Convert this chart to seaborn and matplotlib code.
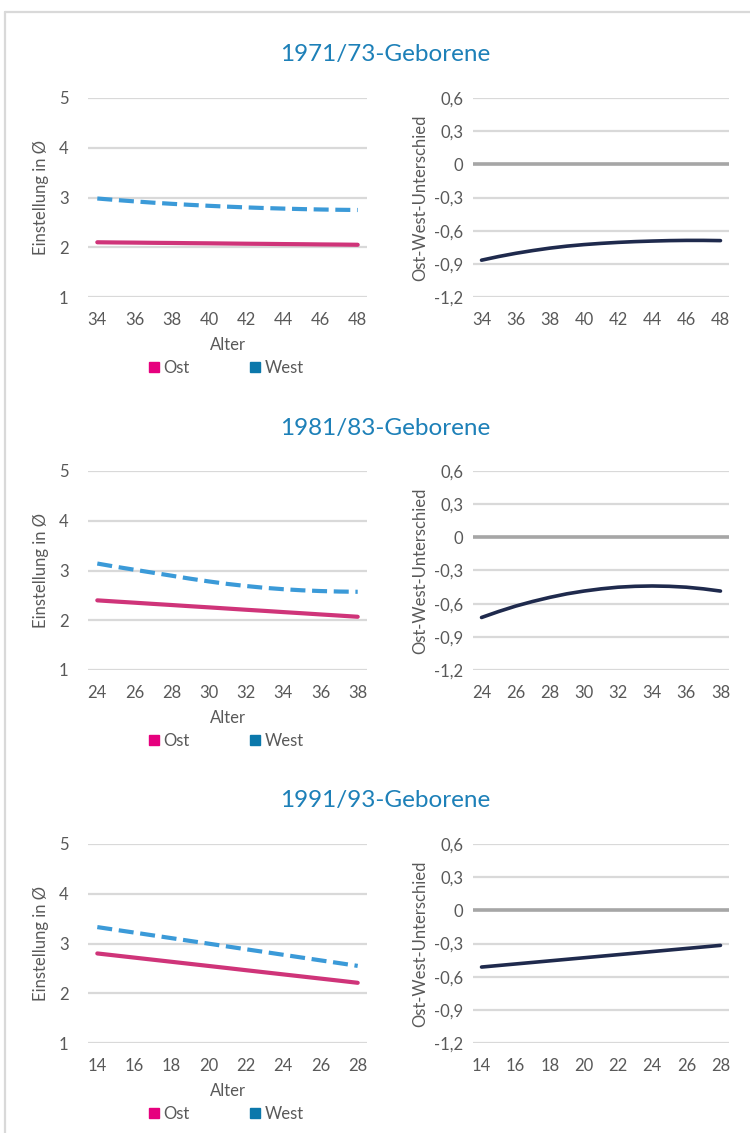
import seaborn as sns
import matplotlib.pyplot as plt
from matplotlib.lines import Line2D

# === Data ===
titles = ["1971/73-Geborene", "1981/83-Geborene", "1991/93-Geborene"]

alter_1971 = [34, 35, 36, 37, 38, 39, 40, 41, 42, 43, 44, 45, 46, 47, 48]
alter_1981 = [24, 25, 26, 27, 28, 29, 30, 31, 32, 33, 34, 35, 36, 37, 38]
alter_1991 = [14, 15, 16, 17, 18, 19, 20, 21, 22, 23, 24, 25, 26, 27, 28]

ost_1971 = [2.100, 2.096, 2.093, 2.089, 2.086, 2.082, 2.079, 2.075, 2.071, 2.068,
            2.064, 2.061, 2.057, 2.054, 2.050]
west_1971 = [2.98, 2.95, 2.922, 2.896, 2.873, 2.852, 2.833, 2.816, 2.801, 2.788,
             2.777, 2.767, 2.759, 2.753, 2.749]
diff_1971 = [-0.867, -0.834, -0.805, -0.780, -0.758, -0.740, -0.726, -0.715, -0.706, -0.699,
             -0.694, -0.690, -0.688, -0.688, -0.690]

ost_1981 = [2.400, 2.376, 2.353, 2.329, 2.306, 2.282, 2.259, 2.235, 2.211, 2.188,
            2.164, 2.141, 2.117, 2.094, 2.070]
west_1981 = [3.14, 3.075, 3.015, 2.955, 2.895, 2.835, 2.78, 2.73, 2.688, 2.652,
             2.624, 2.602, 2.587, 2.577, 2.572]
diff_1981 = [-0.725, -0.671, -0.622, -0.580, -0.543, -0.511, -0.486, -0.466, -0.451, -0.443,
             -0.440, -0.443, -0.451, -0.466, -0.486]

ost_1991 = [2.800, 2.758, 2.716, 2.674, 2.632, 2.590, 2.548, 2.506, 2.463, 2.421,
            2.379, 2.337, 2.295, 2.253, 2.210]
west_1991 = [3.33, 3.274, 3.219, 3.163, 3.107, 3.051, 2.996, 2.940, 2.884, 2.829,
             2.773, 2.717, 2.661, 2.606, 2.550]
diff_1991 = [-0.513, -0.499, -0.485, -0.471, -0.457, -0.443, -0.429, -0.415, -0.401, -0.387,
             -0.373, -0.359, -0.345, -0.331, -0.317]

left_ticks = [1, 2, 3, 4, 5]
right_ticks = [0.6, 0.3, 0, -0.3, -0.6, -0.9, -1.2]
right_labels = ["0,6", "0,3", "0", "-0,3", "-0,6", "-0,9", "-1,2"]

rows = [
    (titles[0], alter_1971, ost_1971, west_1971, diff_1971),
    (titles[1], alter_1981, ost_1981, west_1981, diff_1981),
    (titles[2], alter_1991, ost_1991, west_1991, diff_1991),
]

# === Style ===
sns.set_theme(style="white")
plt.rcParams["font.family"] = ["Lato", "DejaVu Sans"]
txt = "#595959"
grid_c = "#d9d9d9"
ost_line, west_line, diff_line = "#cf3479", "#3b9ad8", "#1f2a4d"
ost_leg, west_leg = "#e6007e", "#0b78ab"
title_c = "#1d80b8"

W, H = 750, 1133
fig = plt.figure(figsize=(W / 100, H / 100), dpi=100)

# outer frame (top + left edge)
fig.add_artist(Line2D([5 / W, 1], [1 - 12 / H, 1 - 12 / H], color=grid_c, lw=1.6))
fig.add_artist(Line2D([5 / W, 5 / W], [0, 1 - 12 / H], color=grid_c, lw=1.6))


def style_axes(ax, ages):
    sns.despine(ax=ax, left=True, bottom=True)
    ax.set_xlim(ages[0] - 0.5, ages[-1] + 0.5)
    ax.set_xticks(ages[::2])
    ax.set_xticklabels([str(a) for a in ages[::2]])
    ax.tick_params(length=0, labelsize=12, colors=txt)
    ax.tick_params(axis="x", pad=11)
    ax.yaxis.grid(True, color=grid_c, lw=1.6)
    ax.xaxis.grid(False)
    ax.set_axisbelow(True)


row_tops = [98, 471, 844]
row_h = 199

for (title, ages, ost, west, diff), top in zip(rows, row_tops):
    bottom = 1 - (top + row_h) / H
    height = row_h / H

    fig.text(385 / W, 1 - (top - 43) / H, title, ha="center", va="center",
             fontsize=17.5, color=title_c)

    # left panel: Einstellung
    ax = fig.add_axes([88 / W, bottom, 279 / W, height])
    sns.lineplot(x=ages, y=ost, ax=ax, color=ost_line, lw=3)
    sns.lineplot(x=ages, y=west, ax=ax, color=west_line, lw=3, linestyle=(0, (3.6, 1.6)))
    ax.set_ylim(1, 5)
    ax.set_yticks(left_ticks)
    style_axes(ax, ages)
    ax.tick_params(axis="y", pad=14)
    ax.set_ylabel("Einstellung in Ø", fontsize=12, color=txt, labelpad=7)
    ax.set_xlabel("Alter", fontsize=12, color=txt, labelpad=6)
    handles = [
        Line2D([], [], marker="s", ls="none", color=ost_leg, markersize=7.5),
        Line2D([], [], marker="s", ls="none", color=west_leg, markersize=7.5),
    ]
    leg = ax.legend(handles, ["Ost", "West"], loc="center", bbox_to_anchor=(0.49, -0.355),
                    ncol=2, frameon=False, fontsize=12, columnspacing=3.4,
                    handletextpad=0.1, handlelength=1.0)
    for t in leg.get_texts():
        t.set_color(txt)

    # right panel: Ost-West-Unterschied
    ax2 = fig.add_axes([473 / W, bottom, 256 / W, height])
    ax2.axhline(0, color="#a6a6a6", lw=2.6, zorder=1.5)
    sns.lineplot(x=ages, y=diff, ax=ax2, color=diff_line, lw=2.6)
    ax2.set_ylim(-1.2, 0.6)
    ax2.set_yticks(right_ticks)
    ax2.set_yticklabels(right_labels)
    style_axes(ax2, ages)
    ax2.tick_params(axis="y", pad=7)
    ax2.set_ylabel("Ost-West-Unterschied", fontsize=12, color=txt, labelpad=4)
    ax2.set_xlabel("")

fig.savefig("out.png", dpi=100)
